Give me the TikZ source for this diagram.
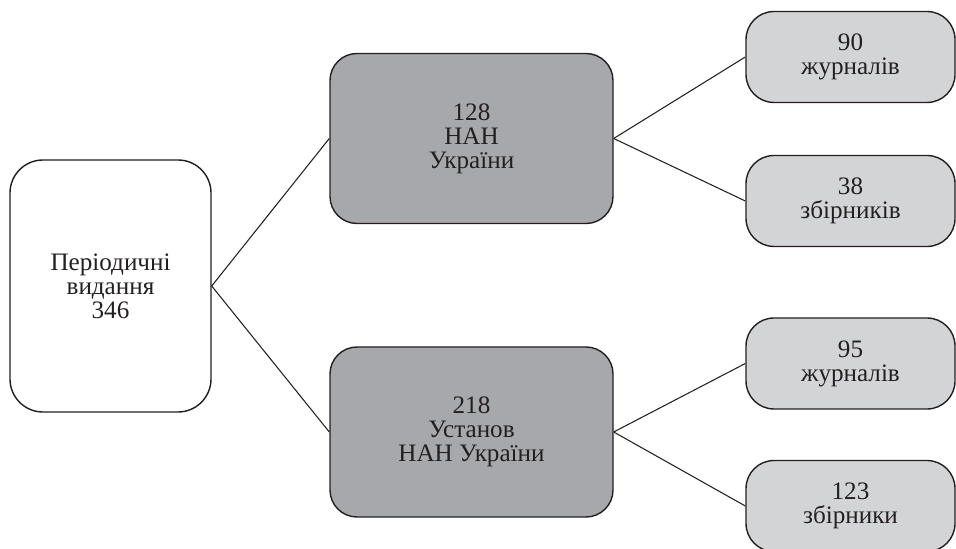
\documentclass[tikz,border=0pt]{standalone}
\usepackage{fontspec}
\setmainfont{Liberation Serif}
\definecolor{inkdark}{RGB}{35, 31, 32}
\definecolor{midgray}{RGB}{167, 168, 171}
\definecolor{lightgray1}{RGB}{211, 212, 214}
\usetikzlibrary{positioning}

\begin{document}
\begin{tikzpicture}[
  box/.style={draw=inkdark, line width=0.8pt, align=center, text=inkdark,
              font=\fontsize{14.3}{13.7}\selectfont, inner sep=2pt},
  rootbox/.style={box, fill=white, rounded corners=0.66cm,
                  minimum width=4.02cm, minimum height=5.04cm},
  groupbox/.style={box, fill=midgray, rounded corners=0.54cm,
                   minimum width=5.66cm, minimum height=3.4cm},
  leafbox/.style={box, fill=lightgray1, rounded corners=0.56cm,
                  minimum width=4.18cm, minimum height=1.82cm},
  link/.style={draw=inkdark, line width=0.6pt},
]
\useasboundingbox (0, 0) rectangle (19.12, 10.98);

% Root
\node[rootbox] (root) at (2.21, 5.26) {Періодичні\\видання\\346};

% Groups
\node[groupbox] (nan) at (9.43, 8.21) {128\\НАН\\України};
\node[groupbox] (inst) at (9.43, 2.34) {218\\Установ\\НАН України};

% Leaves
\node[leafbox] (nanjour) at (17.01, 9.84) {90\\журналів};
\node[leafbox] (nancoll) at (17.01, 6.96) {38\\збірників};
\node[leafbox] (instjour) at (17.01, 3.71) {95\\журналів};
\node[leafbox] (instcoll) at (17.01, 0.86) {123\\збірники};

% Links
\draw[link] (root.east) -- (nan.west);
\draw[link] (root.east) -- (inst.west);
\draw[link] (nan.east) -- (nanjour.west);
\draw[link] (nan.east) -- (nancoll.west);
\draw[link] (inst.east) -- (instjour.west);
\draw[link] (inst.east) -- (instcoll.west);
\end{tikzpicture}
\end{document}
